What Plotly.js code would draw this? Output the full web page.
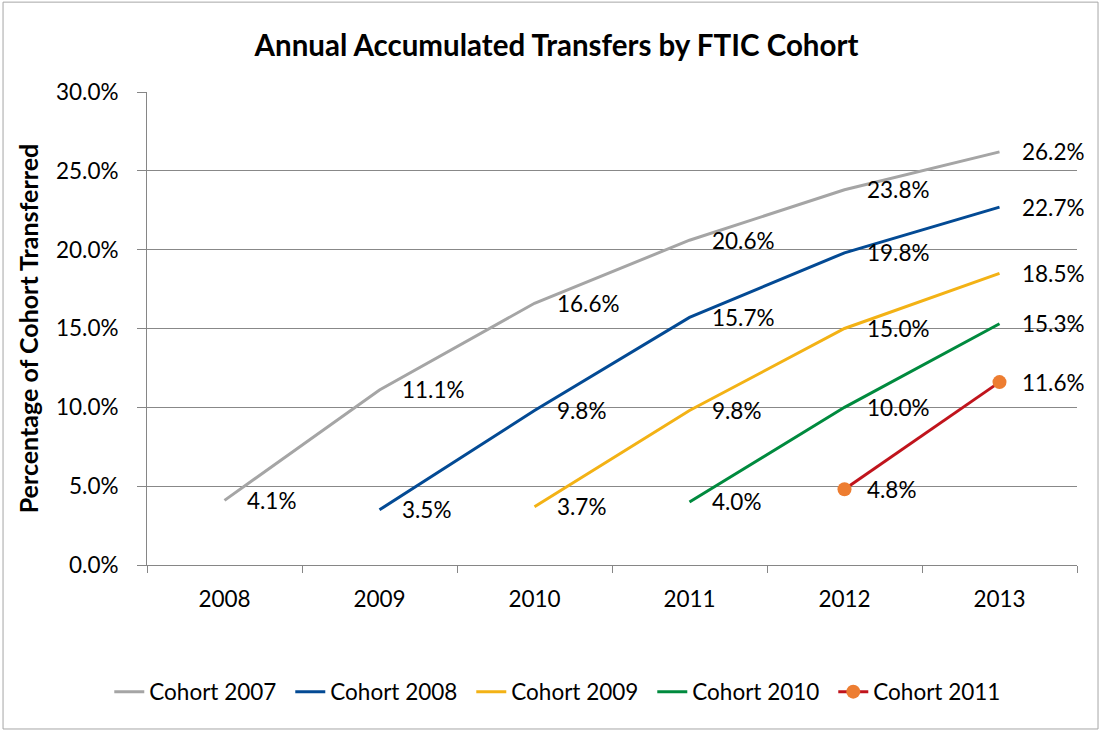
<!DOCTYPE html>
<html>
<head>
<meta charset="utf-8">
<script src="https://cdn.plot.ly/plotly-3.0.1.min.js"></script>
<style>html,body{margin:0;padding:0;background:#fff;}#chart{width:1102px;height:732px;}</style>
</head>
<body>
<div id="chart"></div>
<script>
var years = ['2008', '2009', '2010', '2011', '2012', '2013'];
var cohort2007 = [4.1, 11.1, 16.6, 20.6, 23.8, 26.2];
var cohort2008 = [null, 3.5, 9.8, 15.7, 19.8, 22.7];
var cohort2009 = [null, null, 3.7, 9.8, 15.0, 18.5];
var cohort2010 = [null, null, null, 4.0, 10.0, 15.3];
var cohort2011 = [null, null, null, null, 4.8, 11.6];
var seriesNames = ['Cohort 2007', 'Cohort 2008', 'Cohort 2009', 'Cohort 2010', 'Cohort 2011'];
var seriesValues = [cohort2007, cohort2008, cohort2009, cohort2010, cohort2011];
var lineColors = ['#A5A5A5', '#034A94', '#F3B215', '#008A3E', '#C0141C'];

var FONT = 'Lato, "Open Sans", sans-serif';
var FS = 22.5;

var traces = seriesValues.map(function (vals, i) {
  var t = {
    type: 'scatter',
    x: years,
    y: vals,
    name: seriesNames[i],
    mode: i === 4 ? 'lines+markers' : 'lines',
    line: {color: lineColors[i], width: 3},
    hoverinfo: 'skip'
  };
  if (i === 4) t.marker = {color: '#ED7D31', size: 14};
  return t;
});

var annotations = [];
seriesValues.forEach(function (vals) {
  vals.forEach(function (v, j) {
    if (v === null) return;
    annotations.push({
      x: j, y: v, xref: 'x', yref: 'y',
      text: v.toFixed(1) + '%',
      showarrow: false, xanchor: 'left', yanchor: 'middle', xshift: 20,
      font: {family: FONT, size: FS, color: '#000'}
    });
  });
});

var layout = {
  width: 1102, height: 732, autosize: false,
  margin: {l: 147, r: 25, t: 92, b: 167, autoexpand: false},
  paper_bgcolor: '#fff', plot_bgcolor: '#fff',
  font: {family: FONT, size: FS, color: '#000'},
  title: {text: '<b>Annual Accumulated Transfers by FTIC Cohort</b>', font: {family: FONT, size: 29.5, color: '#000'},
          x: 0.505, xref: 'container', xanchor: 'center', y: 0.938, yref: 'container', yanchor: 'middle'},
  xaxis: {
    type: 'category', range: [-0.5, 5.5], tickangle: 0, automargin: false,
    showgrid: false, showline: true, linecolor: '#868686', linewidth: 1,
    ticks: 'outside', tickson: 'boundaries', ticklen: 7, tickcolor: '#868686',
    ticklabelstandoff: 14,
    tickfont: {family: FONT, size: FS, color: '#000'}, zeroline: false, fixedrange: true
  },
  yaxis: {
    range: [0, 30], dtick: 5, tick0: 0, automargin: false,
    tickformat: '.1f', ticksuffix: '%',
    showgrid: true, gridcolor: '#888888', gridwidth: 1,
    showline: true, linecolor: '#868686', linewidth: 1,
    ticks: 'outside', ticklen: 9, tickcolor: '#868686',
    ticklabelstandoff: 14,
    tickfont: {family: FONT, size: FS, color: '#000'}, zeroline: false,
    title: {text: '<b>Percentage of Cohort Transferred</b>', font: {family: FONT, size: 25, color: '#000'}, standoff: 10}
  },
  showlegend: true,
  legend: {orientation: 'h', x: 0.446, xref: 'paper', xanchor: 'center', y: -0.2685, yref: 'paper', yanchor: 'middle',
           entrywidth: 136, entrywidthmode: 'pixels',
           font: {family: FONT, size: FS, color: '#000'}, tracegroupgap: 0, bgcolor: 'rgba(0,0,0,0)'},
  annotations: annotations,
  shapes: [{type: 'rect', xref: 'paper', yref: 'paper', x0: -0.1548, x1: 1.0226, y0: -0.3467, y1: 1.190,
            line: {color: '#A6A6A6', width: 1}, fillcolor: 'rgba(0,0,0,0)', layer: 'below'}]
};

Plotly.newPlot('chart', traces, layout, {displayModeBar: false, staticPlot: true});
</script>
</body>
</html>
